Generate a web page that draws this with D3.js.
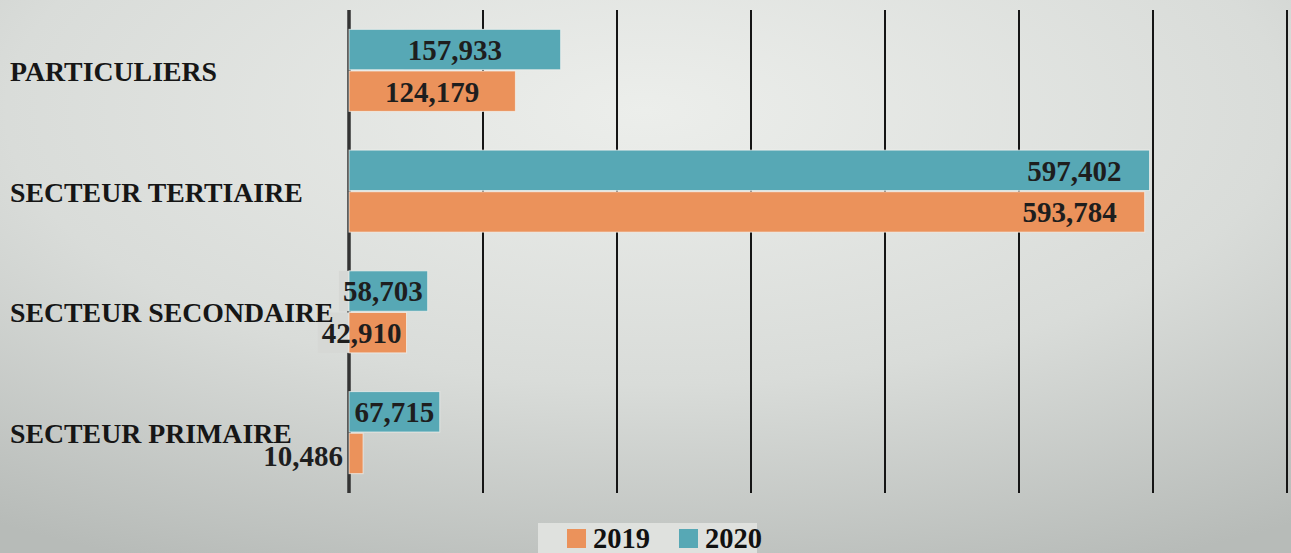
<!DOCTYPE html>
<html>
<head>
<meta charset="utf-8">
<script src="https://cdn.jsdelivr.net/npm/d3@7"></script>
<style>
  html, body { margin: 0; padding: 0; overflow: hidden; }
  svg { display: block; font-family: "Liberation Serif", "Times New Roman", serif; font-weight: bold; }
</style>
</head>
<body>
<div id="chart"></div>
<script>
// Data
const categories = ["PARTICULIERS", "SECTEUR TERTIAIRE", "SECTEUR SECONDAIRE", "SECTEUR PRIMAIRE"];
const years = ["2020", "2019"];
const values2019 = [124179, 593784, 42910, 10486];
const values2020 = [157933, 597402, 58703, 67715];
const gridTicks = [0, 100000, 200000, 300000, 400000, 500000, 600000, 700000];
const legendYears = ["2019", "2020"];

const W = 1291, H = 553;
const colors = { "2019": "#eb925b", "2020": "#57a8b5" };

const svg = d3.select("#chart")
  .append("svg")
    .attr("width", W)
    .attr("height", H);

// Background gradient
const defs = svg.append("defs");
const grad = defs.append("radialGradient")
  .attr("id", "bg")
  .attr("cx", 0.5).attr("cy", 0.2).attr("r", 0.9);
grad.append("stop").attr("offset", 0).attr("stop-color", "#eceeeb");
grad.append("stop").attr("offset", 0.55).attr("stop-color", "#d9dcd9");
grad.append("stop").attr("offset", 1).attr("stop-color", "#b7bbb8");

svg.append("rect")
  .attr("width", W).attr("height", H)
  .attr("fill", "url(#bg)");

// Scales
const x = d3.scaleLinear()
  .domain([0, 700000])
  .range([349, 1287]);

const y = d3.scaleBand()
  .domain(categories)
  .range([10, 493])
  .paddingInner(0.3)
  .paddingOuter(0.15);

const ySub = d3.scaleBand()
  .domain(years)
  .range([0, y.bandwidth()])
  .padding(0.03);

// Gridlines
svg.append("g")
  .selectAll("line")
  .data(gridTicks)
  .join("line")
    .attr("x1", d => x(d))
    .attr("x2", d => x(d))
    .attr("y1", 10)
    .attr("y2", 493)
    .attr("stroke", d => d === 0 ? "#333" : "#151515")
    .attr("stroke-width", d => d === 0 ? 3.5 : 2);

// Flatten data
const rows = [];
categories.forEach((c, i) => {
  rows.push({ cat: c, year: "2020", value: values2020[i] });
  rows.push({ cat: c, year: "2019", value: values2019[i] });
});

const boxLayer = svg.append("g");
const barLayer = svg.append("g");
const textLayer = svg.append("g");

barLayer.selectAll("rect")
  .data(rows)
  .join("rect")
    .attr("x", x(0))
    .attr("y", d => y(d.cat) + ySub(d.year))
    .attr("width", d => x(d.value) - x(0))
    .attr("height", ySub.bandwidth())
    .attr("fill", d => colors[d.year])
    .attr("stroke", "#f4f4f0")
    .attr("stroke-opacity", 0.7)
    .attr("stroke-width", 1);

// Value labels
const fmt = d3.format(",");
textLayer.selectAll("text.value")
  .data(rows)
  .join("text")
    .attr("class", "value")
    .attr("y", d => y(d.cat) + ySub(d.year) + ySub.bandwidth() / 2)
    .attr("dy", "0.36em")
    .attr("font-size", 29)
    .attr("fill", "#1e1e1e")
    .text(d => fmt(d.value))
    .each(function(d) {
      const t = d3.select(this);
      const w = x(d.value) - x(0);
      const tw = this.getComputedTextLength();
      let anchor, tx;
      d.outside = false;
      if (w < 30) {
        anchor = "end"; tx = x(0) - 6; d.outside = true;
        t.attr("dy", "0.45em");
      } else if (tw > w - 10) {
        anchor = "end"; tx = x(d.value) - 5;
      } else if (d.value > 300000) {
        anchor = "end"; tx = x(d.value) - 28;
      } else {
        anchor = "middle"; tx = x(0) + w / 2;
      }
      t.attr("text-anchor", anchor).attr("x", tx);
      if (!d.outside) {
        const left = anchor === "end" ? tx - tw : tx - tw / 2;
        boxLayer.append("rect")
          .attr("x", left - 4)
          .attr("y", y(d.cat) + ySub(d.year))
          .attr("width", tw + 8)
          .attr("height", ySub.bandwidth())
          .attr("fill", "#d6d8d5");
      }
    });

// Category labels
svg.append("g")
  .selectAll("text")
  .data(categories)
  .join("text")
    .attr("x", 10)
    .attr("y", d => y(d) + y.bandwidth() / 2)
    .attr("dy", "0.38em")
    .attr("font-size", 27.8)
    .attr("fill", "#161616")
    .text(d => d);

// Legend
const legend = svg.append("g");
legend.append("rect")
  .attr("x", 538).attr("y", 523)
  .attr("width", 219).attr("height", 40)
  .attr("fill", "#dfe1de");

const items = legend.selectAll("g.item")
  .data(legendYears)
  .join("g")
    .attr("class", "item")
    .attr("transform", (d, i) => `translate(${567 + i * 112},529)`);

items.append("rect")
  .attr("width", 19).attr("height", 19)
  .attr("fill", d => colors[d]);

items.append("text")
  .attr("x", 26)
  .attr("y", 19)
  .attr("font-size", 28.5)
  .attr("fill", "#111")
  .text(d => d);
</script>
</body>
</html>
